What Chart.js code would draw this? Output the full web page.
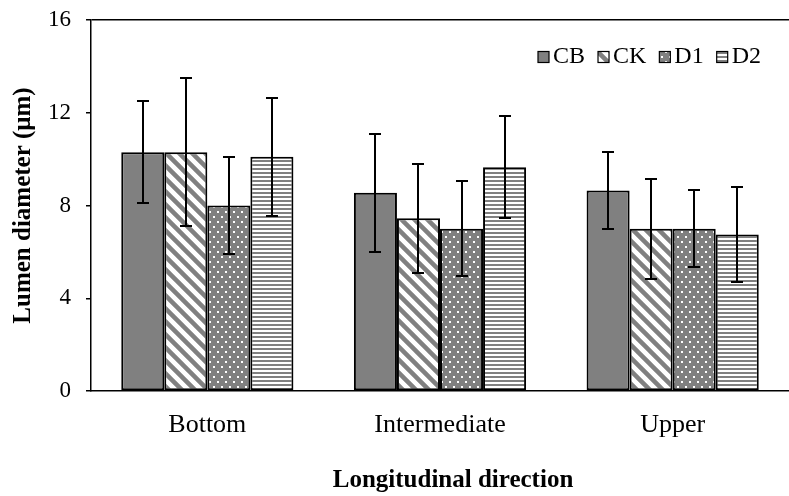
<!DOCTYPE html>
<html>
<head>
<meta charset="utf-8">
<script src="https://cdn.jsdelivr.net/npm/chart.js@4.4.1/dist/chart.umd.min.js"></script>
<style>
    html, body { margin: 0; padding: 0; background: #fff; overflow: hidden; }
    #wrap { width: 789px; height: 496px; }
</style>
</head>
<body>
<div id="wrap"><canvas id="lumenChart" width="789" height="496"></canvas></div>
<script>
const categories = ['Bottom', 'Intermediate', 'Upper'];
const seriesNames = ['CB', 'CK', 'D1', 'D2'];
const cbValues = [10.3, 8.55, 8.65];
const ckValues = [10.3, 7.45, 7.0];
const d1Values = [8.0, 7.0, 7.0];
const d2Values = [10.1, 9.65, 6.75];
const cbErrors = [2.2, 2.55, 1.65];
const ckErrors = [3.2, 2.35, 2.15];
const d1Errors = [2.1, 2.05, 1.65];
const d2Errors = [2.55, 2.2, 2.05];
const yTicks = [0, 4, 8, 12, 16];

const FONT = "'Liberation Serif', 'Times New Roman', serif";
const GRAY = '#808080';

function makePattern(kind) {
    const c = document.createElement('canvas');
    const g = c.getContext('2d');
    if (kind === 'solid') {
        return GRAY;
    }
    if (kind === 'diag') {
        c.width = 13; c.height = 13;
        g.fillStyle = '#fff';
        g.fillRect(0, 0, 13, 13);
        g.strokeStyle = GRAY;
        g.lineWidth = 4.5;
        g.beginPath();
        g.moveTo(-6.5, -6.5); g.lineTo(19.5, 19.5);
        g.moveTo(-6.5, 6.5); g.lineTo(6.5, 19.5);
        g.moveTo(6.5, -6.5); g.lineTo(19.5, 6.5);
        g.stroke();
    } else if (kind === 'dots') {
        c.width = 8; c.height = 10;
        g.fillStyle = GRAY;
        g.fillRect(0, 0, 8, 10);
        g.fillStyle = '#fff';
        g.fillRect(1, 1, 2, 2);
        g.fillRect(5, 6, 2, 2);
    } else if (kind === 'hlines') {
        c.width = 4; c.height = 4;
        g.fillStyle = '#fff';
        g.fillRect(0, 0, 4, 4);
        g.fillStyle = GRAY;
        g.fillRect(0, 0, 4, 2);
    }
    return document.createElement('canvas').getContext('2d').createPattern(c, 'repeat');
}

const fills = [makePattern('solid'), makePattern('diag'), makePattern('dots'), makePattern('hlines')];
const valueSets = [cbValues, ckValues, d1Values, d2Values];
const errorSets = [cbErrors, ckErrors, d1Errors, d2Errors];

// error bars + legend + x title drawn after the bars
const extrasPlugin = {
    id: 'extras',
    afterDatasetsDraw(chart) {
        const ctx = chart.ctx;
        const y = chart.scales.y;
        ctx.save();
        ctx.strokeStyle = '#000';
        ctx.lineWidth = 2;
        chart.data.datasets.forEach((ds, i) => {
            const meta = chart.getDatasetMeta(i);
            meta.data.forEach((bar, j) => {
                const v = ds.data[j];
                const e = errorSets[i][j];
                const yt = Math.round(y.getPixelForValue(v + e));
                const yb = Math.round(y.getPixelForValue(v - e));
                const x = Math.round(bar.x);
                ctx.beginPath();
                ctx.moveTo(x, yt); ctx.lineTo(x, yb);
                ctx.moveTo(x - 6, yt); ctx.lineTo(x + 6, yt);
                ctx.moveTo(x - 6, yb); ctx.lineTo(x + 6, yb);
                ctx.stroke();
            });
        });
        ctx.restore();
    },
    afterDraw(chart) {
        const ctx = chart.ctx;
        ctx.save();
        // legend
        ctx.font = '24px ' + FONT;
        ctx.textBaseline = 'middle';
        let lx = 538;
        const ly = 57;
        seriesNames.forEach((name, i) => {
            ctx.fillStyle = fills[i];
            ctx.fillRect(lx, ly - 5.5, 11, 11);
            ctx.strokeStyle = '#000';
            ctx.lineWidth = 1.2;
            ctx.strokeRect(lx, ly - 5.5, 11, 11);
            ctx.fillStyle = '#000';
            ctx.fillText(name, lx + 15, ly);
            lx += 15 + ctx.measureText(name).width + 13;
        });
        // x axis title
        ctx.font = 'bold 25px ' + FONT;
        ctx.textAlign = 'center';
        ctx.fillText('Longitudinal direction', 453, 481);
        ctx.restore();
    }
};

new Chart(document.getElementById('lumenChart'), {
    type: 'bar',
    data: {
        labels: categories,
        datasets: seriesNames.map((name, i) => ({
            label: name,
            data: valueSets[i],
            backgroundColor: fills[i],
            borderColor: '#000',
            borderWidth: 2,
            borderSkipped: false,
            barPercentage: 1,
            categoryPercentage: 0.74
        }))
    },
    options: {
        responsive: false,
        animation: false,
        layout: { padding: { top: 20, right: 0, bottom: 0, left: 0 } },
        plugins: {
            legend: { display: false },
            tooltip: { enabled: false }
        },
        scales: {
            x: {
                grid: { display: false, drawTicks: false },
                border: { display: true, color: '#000', width: 1.5 },
                ticks: { color: '#000', font: { family: FONT, size: 26 }, padding: 19 },
                afterFit(scale) { scale.height = 105; }
            },
            y: {
                min: 0,
                max: 16,
                afterBuildTicks(scale) { scale.ticks = yTicks.map(v => ({ value: v })); },
                grid: {
                    drawOnChartArea: true,
                    color: ctx => (ctx.tick && ctx.tick.value === 16 ? '#000' : 'rgba(0,0,0,0)'),
                    lineWidth: 1.5,
                    tickColor: '#000',
                    tickLength: 5
                },
                border: { display: true, color: '#000', width: 1.5 },
                ticks: { color: '#000', font: { family: FONT, size: 23 }, padding: 15 },
                title: {
                    display: true,
                    text: 'Lumen diameter (μm)',
                    color: '#000',
                    font: { family: FONT, size: 25, weight: 'bold' },
                    padding: { top: 9, bottom: 0 }
                },
                afterFit(scale) {
                    scale.width = 91;
                    scale.paddingTop = 0;
                    scale.paddingBottom = 0;
                }
            }
        }
    },
    plugins: [extrasPlugin]
});
</script>
</body>
</html>
